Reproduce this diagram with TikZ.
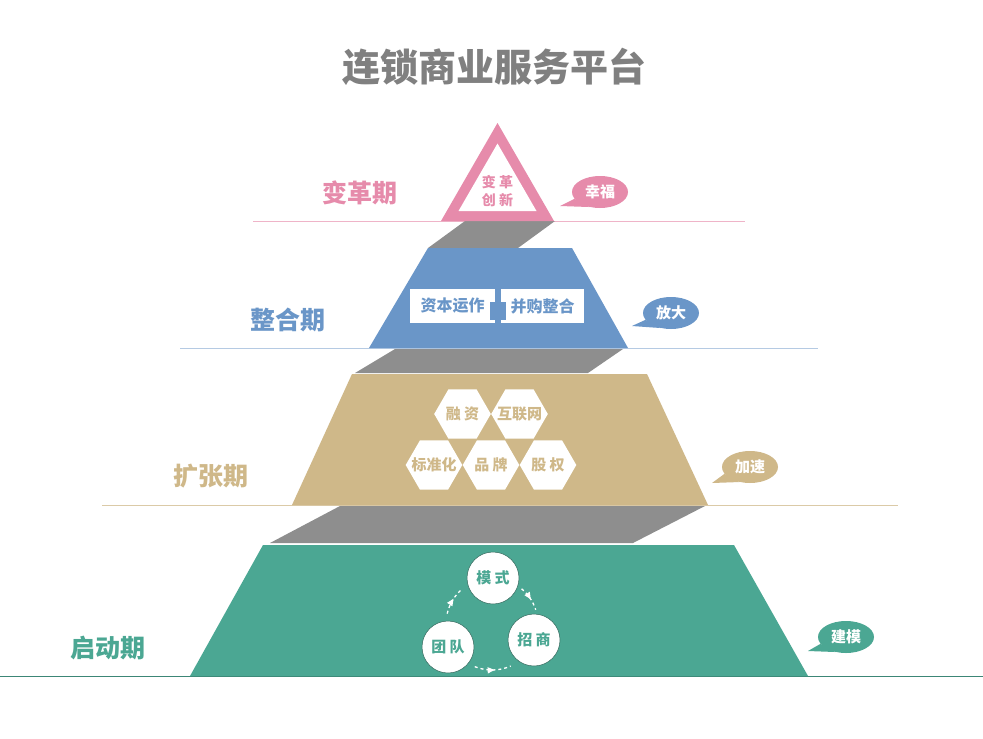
\documentclass[tikz,border=0pt]{standalone}
\usepackage{fontspec}
\setmainfont{Noto Sans CJK SC}
\usetikzlibrary{shapes.geometric,decorations.markings,arrows.meta}
\definecolor{pk}{HTML}{E68BAB}
\definecolor{bl}{HTML}{6A96C8}
\definecolor{tn}{HTML}{CFB889}
\definecolor{tl}{HTML}{4BA793}
\definecolor{gb}{HTML}{8E8E8E}
\definecolor{tg}{HTML}{808080}
\tikzset{
  lab/.style={font=\fontsize{25}{30}\selectfont\bfseries, inner sep=0pt},
  bubble/.style={ellipse, minimum width=56pt, minimum height=32pt, inner sep=0pt, text=white, font=\fontsize{15}{17}\selectfont\bfseries},
  hexfill/.style={fill=white},
  hextext/.style={inner sep=0pt, text=tn, font=\fontsize{15}{17}\selectfont\bfseries},
  bbox/.style={rectangle, fill=white, minimum height=34pt, inner sep=0pt, text=bl, font=\fontsize{16}{18}\selectfont\bfseries},
  cnode/.style={circle, fill=white, draw=tl!60!black, line width=0.5pt, minimum size=52pt, inner sep=0pt, text=tl, font=\fontsize{15}{17}\selectfont\bfseries},
  cyca/.style={white, line width=1.3pt, dash pattern=on 3pt off 3pt, postaction={decorate},
    decoration={markings, mark=at position 0.55 with {\arrow[solid]{Triangle[length=7pt,width=6pt]}}}},
}
\newcommand{\hexcell}[4]{%
  \fill[hexfill, shift={(#1,#2)}] (0:28.3) -- (60:28.3) -- (120:28.3) -- (180:28.3) -- (240:28.3) -- (300:28.3) -- cycle;
  \node[hextext] (#3) at (#1,#2) {#4};}
\begin{document}
\begin{tikzpicture}[x=1pt,y=-1pt]
\useasboundingbox (0,0) rectangle (983,739);
\fill[white] (0,0) rectangle (983,739);

% title
\node[font=\fontsize{38}{44}\selectfont\bfseries, text=tg, inner sep=0pt] (title) at (494,67) {连锁商业服务平台};

% level lines
\draw[pk!65, line width=1pt] (253,221) -- (745,221);
\draw[bl!50, line width=1pt] (180,348) -- (818,348);
\draw[tn!75, line width=1.2pt] (102,505.5) -- (898,505.5);
\draw[tl!80!black, line width=1.2pt] (0,676.5) -- (983,676.5);

% gray connecting bands
\fill[gb] (465,221) -- (555,221) -- (518,248) -- (428,248) -- cycle;
\fill[gb] (395,349) -- (623,349) -- (588,373) -- (355,373) -- cycle;
\fill[gb] (340,506) -- (705,506) -- (633,543) -- (270,543) -- cycle;

% pink triangle
\fill[pk] (497.5,123) -- (554,221) -- (441,221) -- cycle;
\fill[white] (497.5,143.5) -- (536.5,211) -- (458.5,211) -- cycle;
\node[text=pk, font=\fontsize{14}{18}\selectfont\bfseries, align=center, inner sep=0pt] (bg) at (497.5,191) {变 革\\创 新};

% blue trapezoid
\fill[bl] (428,248) -- (572,248) -- (628,348) -- (369,348) -- cycle;
\node[bbox, minimum width=85pt] (zb) at (452.5,306) {资本运作};
\node[bbox, minimum width=83pt] (bg2) at (542.5,306) {并购整合};
\fill[bl] (495,289) rectangle (501,323);
\fill[bl] (490,302) rectangle (506,320);

% tan trapezoid
\fill[tn] (352,374) -- (647,374) -- (708,505) -- (292,505) -- cycle;
\hexcell{462.5}{414}{rz}{融 资}
\hexcell{519.5}{414}{hl}{互联网}
\hexcell{434}{465}{bz}{标准化}
\hexcell{491}{465}{pp}{品 牌}
\hexcell{548}{465}{gq}{股 权}

% teal trapezoid
\fill[tl] (263,545) -- (734,545) -- (808,676) -- (190,676) -- cycle;
\coordinate (cyc) at (492,624);
\node[cnode] (ms) at (493,578) {模 式};
\node[cnode] (td) at (448,647) {团 队};
\node[cnode] (zs) at (534,640) {招 商};
\draw[cyca] (cyc) ++(193:46) arc[start angle=193, end angle=230, radius=46];
\draw[cyca] (cyc) ++(310:46) arc[start angle=310, end angle=342, radius=46];
\draw[cyca] (cyc) ++(112:46) arc[start angle=112, end angle=66, radius=46];

% stage labels
\node[lab, text=pk] (l1) at (360,193) {变革期};
\node[lab, text=bl] (l2) at (288,320) {整合期};
\node[lab, text=tn] (l3) at (211,476) {扩张期};
\node[lab, text=tl] (l4) at (108,648) {启动期};

% bubbles
\node[bubble, fill=pk] (b1) at (600,192) {幸福};
\coordinate (t1) at (560,206);
\fill[pk] (b1.195) -- (t1) -- (b1.235) -- cycle;

\node[bubble, fill=bl] (b2) at (671,313) {放大};
\coordinate (t2) at (632,326);
\fill[bl] (b2.195) -- (t2) -- (b2.235) -- cycle;

\node[bubble, fill=tn] (b3) at (750,467) {加速};
\coordinate (t3) at (712,483);
\fill[tn] (b3.195) -- (t3) -- (b3.235) -- cycle;

\node[bubble, fill=tl] (b4) at (846,637) {建模};
\coordinate (t4) at (808,651);
\fill[tl] (b4.195) -- (t4) -- (b4.235) -- cycle;
\end{tikzpicture}
\end{document}
